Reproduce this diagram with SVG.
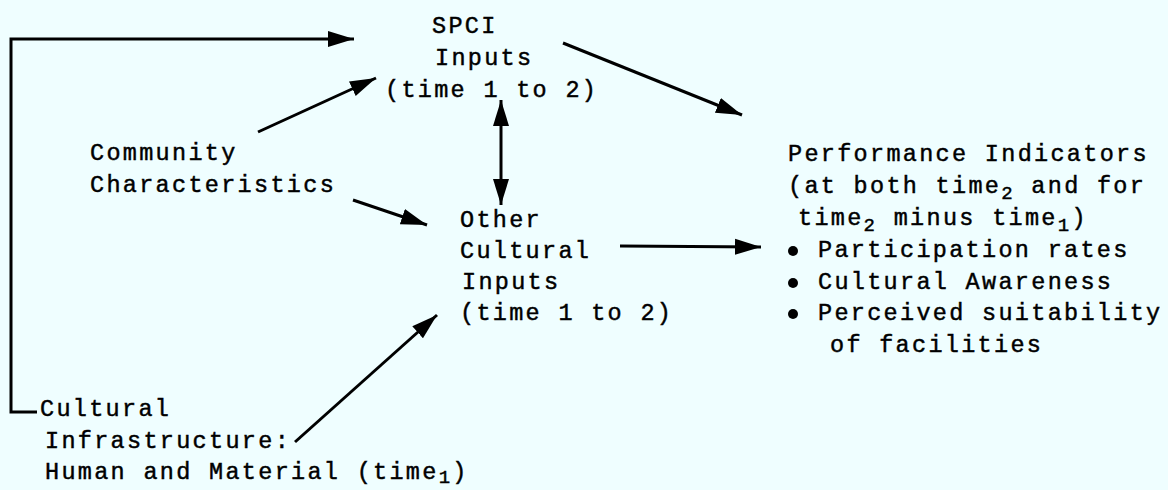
<svg xmlns="http://www.w3.org/2000/svg" width="1168" height="490" viewBox="0 0 1168 490">
  <style>
    .t { font-family: "Liberation Mono", "DejaVu Sans Mono", monospace; font-size: 23.5px; letter-spacing: 2.3px; fill: #000; stroke: #000; stroke-width: 0.45px; }
    .sub { font-size: 19px; }
    .ln { fill: none; stroke: #000; stroke-width: 3; }
  </style>
  <defs>
    <marker id="head" markerUnits="userSpaceOnUse" markerWidth="28" markerHeight="18" refX="26" refY="9" orient="auto-start-reverse">
      <path d="M0,1 L26,9 L0,17 Z" fill="#000"/>
    </marker>
  </defs>
  <rect width="1168" height="490" fill="#effeff"/>

  <g id="connectors">
    <!-- feedback loop from infrastructure up to SPCI inputs -->
    <path class="ln" d="M37,412 H11 V39 H354" marker-end="url(#head)"/>
    <line class="ln" x1="258" y1="132" x2="376" y2="78" marker-end="url(#head)"/>
    <line class="ln" x1="563" y1="43" x2="742" y2="115" marker-end="url(#head)"/>
    <line class="ln" x1="501" y1="100" x2="501" y2="205" marker-start="url(#head)" marker-end="url(#head)"/>
    <line class="ln" x1="353" y1="200" x2="427" y2="225" marker-end="url(#head)"/>
    <line class="ln" x1="620" y1="246" x2="761" y2="247" marker-end="url(#head)"/>
    <line class="ln" x1="295" y1="442" x2="437" y2="315" marker-end="url(#head)"/>
  </g>

  <g id="spci">
    <text class="t" x="432" y="33">SPCI</text>
    <text class="t" x="435" y="65">Inputs</text>
    <text class="t" x="385" y="97">(time 1 to 2)</text>
  </g>

  <g id="community">
    <text class="t" x="90" y="160">Community</text>
    <text class="t" x="90" y="192">Characteristics</text>
  </g>

  <g id="other-inputs">
    <text class="t" x="460" y="227">Other</text>
    <text class="t" x="460" y="258">Cultural</text>
    <text class="t" x="462" y="289">Inputs</text>
    <text class="t" x="460" y="320">(time 1 to 2)</text>
  </g>

  <g id="performance">
    <text class="t" x="788" y="161">Performance Indicators</text>
    <text class="t" x="788" y="193">(at both time<tspan class="sub" dy="6">2</tspan><tspan dy="-6"> and for</tspan></text>
    <text class="t" x="798" y="225">time<tspan class="sub" dy="6">2</tspan><tspan dy="-6"> minus time</tspan><tspan class="sub" dy="6">1</tspan><tspan dy="-6">)</tspan></text>
    <circle cx="793" cy="251" r="5" fill="#000"/>
    <text class="t" x="818" y="257">Participation rates</text>
    <circle cx="793" cy="283" r="5" fill="#000"/>
    <text class="t" x="818" y="289">Cultural Awareness</text>
    <circle cx="793" cy="314" r="5" fill="#000"/>
    <text class="t" x="818" y="320">Perceived suitability</text>
    <text class="t" x="830" y="352">of facilities</text>
  </g>

  <g id="infrastructure">
    <text class="t" x="40" y="416">Cultural</text>
    <text class="t" x="45" y="448">Infrastructure:</text>
    <text class="t" x="45" y="479">Human and Material (time<tspan class="sub" dy="4">1</tspan><tspan dy="-4">)</tspan></text>
  </g>
</svg>
